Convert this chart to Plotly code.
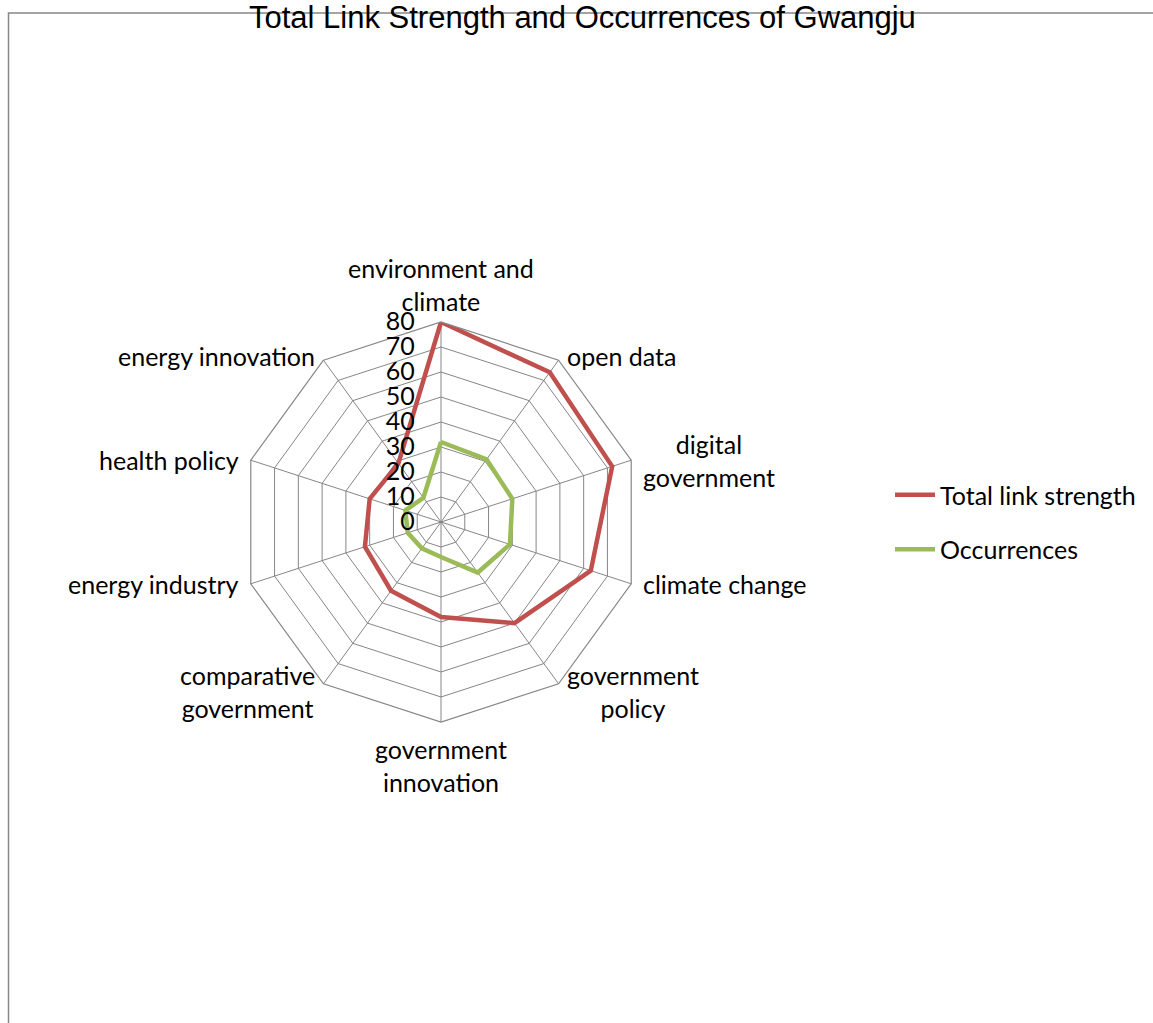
import math
import plotly.graph_objects as go

# Keyword categories, clockwise from the top
categories = [
    "environment and climate", "open data", "digital government",
    "climate change", "government policy", "government innovation",
    "comparative government", "energy industry", "health policy",
    "energy innovation",
]
tick_labels = [
    "environment and<br>climate", "open data", "digital<br>government",
    "climate change", "government<br>policy", "government<br>innovation",
    "comparative<br>government", "energy industry", "health policy",
    "energy innovation",
]
total_link_strength = [80, 74, 72, 63, 50, 38, 34, 32, 30, 29]
occurrences = [32, 31, 30, 29, 25, 14, 13, 14, 15, 12]
radial_ticks = [0, 10, 20, 30, 40, 50, 60, 70, 80]

W, H = 1153, 1023
cx, cy, R = 441, 522, 200
FONT = "Lato, Carlito, Calibri, sans-serif"
GRID = "#868686"


def closed(seq):
    return list(seq) + [seq[0]]


fig = go.Figure()
fig.add_trace(go.Scatterpolar(
    r=closed(total_link_strength), theta=closed(categories),
    mode="lines", name="Total link strength", legendgroup="a",
    line=dict(color="#C0504D", width=4.5),
))
fig.add_trace(go.Scatterpolar(
    r=closed(occurrences), theta=closed(categories),
    mode="lines", name="Occurrences", legendgroup="b",
    line=dict(color="#9BBB59", width=4.5),
))

# Category labels placed just outside each vertex of the outer polygon
annotations = []
n = len(categories)
for i, label in enumerate(tick_labels):
    ang = 2 * math.pi * i / n
    sx, sy = math.sin(ang), math.cos(ang)
    px = (cx + R * sx) / W
    py = (H - cy + R * sy) / H
    if abs(sx) < 0.1:
        xa, ya = "center", ("bottom" if sy > 0 else "top")
        xs, ys = 0, (4 if sy > 0 else -10)
    else:
        xa = "left" if sx > 0 else "right"
        ya = "middle"
        xs = 10 * (1 if sx > 0 else -1) if abs(sx) > 0.9 else 6 * (1 if sx > 0 else -1)
        ys = 4 if sy > 0.5 else (-8 if sy < -0.5 else 0)
    annotations.append(dict(
        text=label, x=px, y=py, xref="paper", yref="paper",
        xanchor=xa, yanchor=ya, xshift=xs, yshift=ys, showarrow=False,
        align="center", font=dict(family=FONT, size=25, color="black"),
    ))

annotations.append(dict(
    text="Total Link Strength and Occurrences of Gwangju",
    x=582 / W, y=1, xref="paper", yref="paper",
    xanchor="center", yanchor="top", showarrow=False, yshift=2,
    font=dict(family="Liberation Sans, Arial, sans-serif", size=31,
              color="black"),
))

fig.update_layout(
    width=W, height=H,
    margin=dict(l=0, r=0, t=0, b=0),
    paper_bgcolor="white",
    font=dict(family=FONT, size=25, color="black"),
    polar=dict(
        domain=dict(x=[(cx - R) / W, (cx + R) / W],
                    y=[(H - cy - R) / H, (H - cy + R) / H]),
        bgcolor="white",
        gridshape="linear",
        angularaxis=dict(
            type="category",
            categoryorder="array", categoryarray=categories,
            direction="clockwise", rotation=90,
            showgrid=True, gridcolor=GRID, gridwidth=1.2,
            showline=True, linecolor=GRID, linewidth=1.2,
            ticks="", showticklabels=False,
        ),
        radialaxis=dict(
            range=[0, 80], tickmode="array", tickvals=radial_ticks,
            angle=90, tickangle=90, side="counterclockwise",
            showgrid=True, gridcolor=GRID, gridwidth=1.2,
            showline=False, ticks="outside", ticklen=17,
            tickcolor="rgba(0,0,0,0)",
            tickfont=dict(family=FONT, size=25),
        ),
    ),
    showlegend=True,
    legend=dict(
        x=890 / W, y=(H - 472) / H, xanchor="left", yanchor="top",
        font=dict(family=FONT, size=25), bgcolor="rgba(0,0,0,0)",
        traceorder="grouped", tracegroupgap=19, itemwidth=40,
    ),
    annotations=annotations,
    shapes=[dict(
        type="rect", xref="paper", yref="paper",
        x0=8.5 / W, x1=1 + 20 / W, y0=-20 / H, y1=(H - 13) / H,
        line=dict(color=GRID, width=1.5), fillcolor="rgba(0,0,0,0)",
        layer="below",
    )],
)

fig.write_html("out.html")
